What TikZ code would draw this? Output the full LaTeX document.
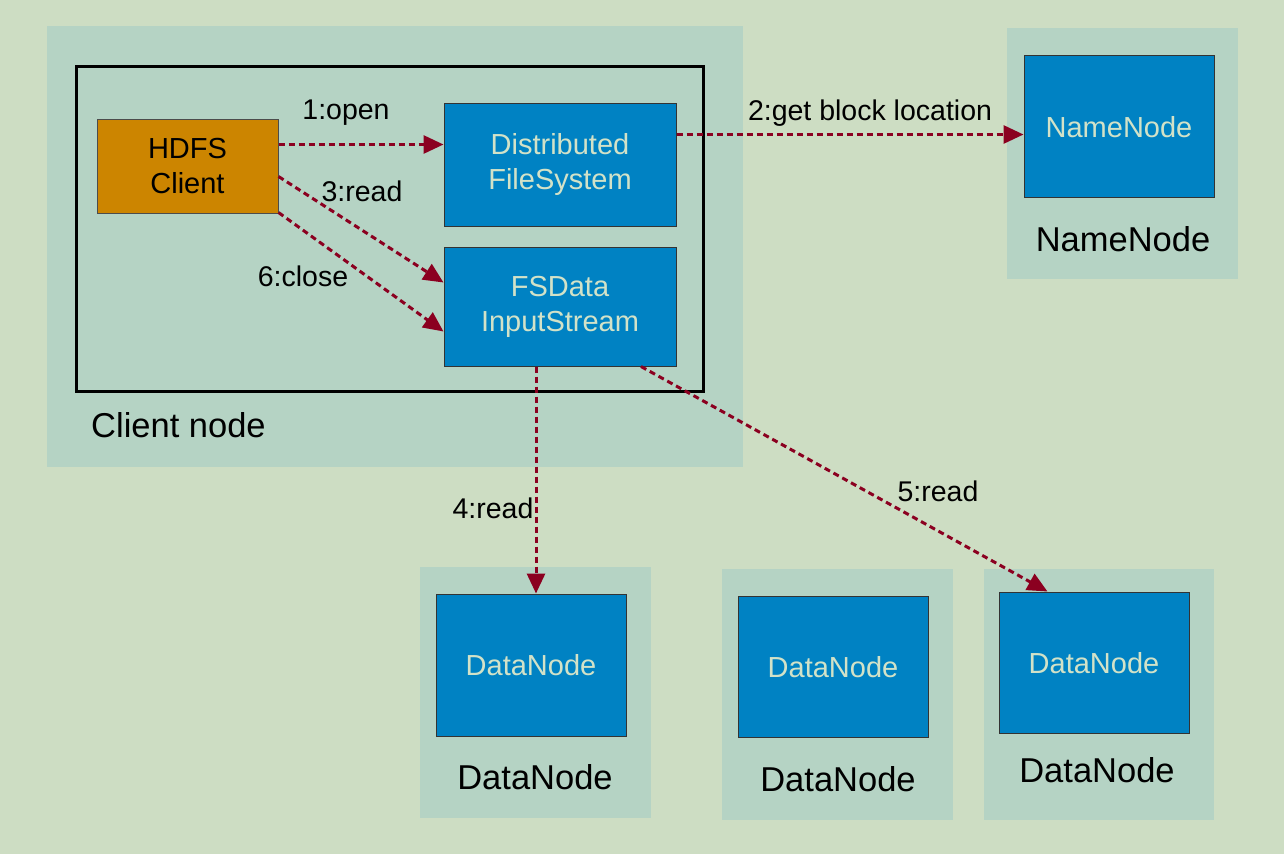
\documentclass[tikz,border=0pt]{standalone}
\usepackage{fontspec}
\setmainfont{Liberation Sans}
\usetikzlibrary{arrows.meta,calc}
\definecolor{bgc}{RGB}{205,221,195}
\definecolor{panelc}{RGB}{181,211,196}
\definecolor{bluec}{RGB}{0,130,195}
\definecolor{orangec}{RGB}{204,133,0}
\definecolor{lightt}{RGB}{210,226,200}
\definecolor{arrowc}{RGB}{139,0,32}
\tikzset{
  panel/.style={fill=panelc, draw=none},
  bluebox/.style={draw=black!80, line width=1pt, fill=bluec, text=lightt, align=center,
    font=\fontsize{29}{35}\selectfont, inner sep=0pt},
  clientbox/.style={draw=black!70, line width=1pt, fill=orangec, text=black, align=center,
    font=\fontsize{29}{35}\selectfont, inner sep=0pt},
  innertext/.style={text=lightt, font=\fontsize{29}{35}\selectfont, inner sep=0pt},
  biglabel/.style={font=\fontsize{34.5}{40}\selectfont, text=black, inner sep=0pt},
  elabel/.style={font=\fontsize{28.5}{33}\selectfont, text=black, inner sep=0pt},
  flow/.style={draw=arrowc, line width=3pt, dash pattern=on 6pt off 4pt,
    -{Triangle[length=20pt,width=18pt]}, shorten >=0pt},
}
\begin{document}
\begin{tikzpicture}[x=1pt,y=-1pt]
\useasboundingbox (0,0) rectangle (1284,854);
\fill[bgc] (0,0) rectangle (1284,854);
% panels
\fill[panelc] (47,26) rectangle (743,467);
\fill[panelc] (1007,28) rectangle (1238,279);
\fill[panelc] (420,567) rectangle (651,818);
\fill[panelc] (722,569) rectangle (953,820);
\fill[panelc] (984,569) rectangle (1214,820);
% client frame
\draw[black, line width=3pt] (76,66) rectangle (703,391);
% nodes
\node[clientbox, minimum width=181pt, minimum height=94pt] (client) at (187.5,166) {HDFS\\Client};
\node[bluebox, minimum width=232pt, minimum height=123pt] (dfs) at (560,164.5) {Distributed\\FileSystem};
\node[bluebox, minimum width=232pt, minimum height=119pt] (fsd) at (560,306.5) {FSData\\InputStream};
\node[bluebox, minimum width=190pt, minimum height=142pt] (nn) at (1119,126) {};
\node[innertext] (nnt) at (1119,127) {NameNode};
\node[bluebox, minimum width=190pt, minimum height=142pt] (dn1) at (531,665) {};
\node[innertext] (dn1t) at (531,665) {DataNode};
\node[bluebox, minimum width=190pt, minimum height=141pt] (dn2) at (833,666.5) {};
\node[innertext] (dn2t) at (833,667) {DataNode};
\node[bluebox, minimum width=190pt, minimum height=141pt] (dn3) at (1094,662.5) {};
\node[innertext] (dn3t) at (1094,663) {DataNode};
% big labels
\node[biglabel, anchor=west] (cnl) at (91,425) {Client node};
\node[biglabel] (nnl) at (1123,239) {NameNode};
\node[biglabel] (dn1l) at (535,777) {DataNode};
\node[biglabel] (dn2l) at (838,779) {DataNode};
\node[biglabel] (dn3l) at (1097,770) {DataNode};
% connector points
\coordinate (c1) at ($(client.north east)+(0,26)$);
\coordinate (c3) at ($(client.north east)+(0,58)$);
\coordinate (c6) at ($(client.south east)+(0,-1)$);
\coordinate (f3) at ($(fsd.north west)+(0,36)$);
\coordinate (f6) at ($(fsd.north west)+(0,85)$);
\coordinate (d2) at ($(dfs.north east)+(0,32)$);
\coordinate (f4) at ($(fsd.south)+(-24,0)$);
\coordinate (f5) at ($(fsd.south)+(81,0)$);
\coordinate (e5) at ($(dn3.north west)+(49,0)$);
% connectors
\draw[flow] (c1) -- (c1 -| dfs.west);
\draw[flow] (d2) -- (d2 -| nn.west);
\draw[flow] (c3) -- (f3);
\draw[flow] (c6) -- (f6);
\draw[flow] (f4) -- (f4 |- dn1.north);
\draw[flow] (f5) -- (e5);
% edge labels
\node[elabel] (l1) at (346,113) {1:open};
\node[elabel] (l2) at (870,113) {2:get block location};
\node[elabel] (l3) at (362,191) {3:read};
\node[elabel] (l6) at (303,276) {6:close};
\node[elabel] (l4) at (493,508) {4:read};
\node[elabel] (l5) at (938,491) {5:read};
\end{tikzpicture}
\end{document}
